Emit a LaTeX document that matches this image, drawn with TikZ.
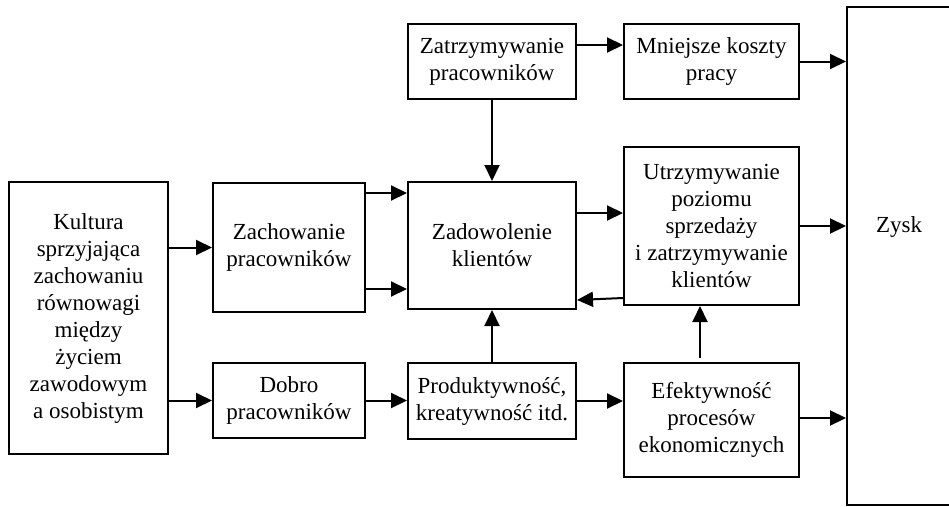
\documentclass[tikz,border=0pt]{standalone}
\usepackage{fontspec}
\setmainfont{Liberation Serif}
\usetikzlibrary{arrows.meta}
\begin{document}
\begin{tikzpicture}[x=1pt,y=-1pt,
  box/.style={draw,line width=2pt,rectangle,inner sep=0pt,align=center,
    font=\fontsize{23}{27}\selectfont},
  arr/.style={line width=2pt,-{Triangle[length=16pt,width=15pt]}}]
\useasboundingbox[fill=white] (0,0) rectangle (949,506);
\node[box,minimum width=159pt,minimum height=272pt] (K) at (88.5,318)
  {Kultura\\sprzyjająca\\zachowaniu\\równowagi\\między\\życiem\\zawodowym\\a osobistym};
\node[box,minimum width=152pt,minimum height=129pt] (Zach) at (289,247.5) {Zachowanie\\pracowników};
\node[box,minimum width=152pt,minimum height=75pt] (Dobro) at (289,400.5) {Dobro\\pracowników};
\node[box,minimum width=168pt,minimum height=75pt] (Zat) at (492,61.5) {Zatrzymywanie\\pracowników};
\node[box,minimum width=168pt,minimum height=127pt] (Zad) at (492,245.5) {Zadowolenie\\klientów};
\node[box,minimum width=168pt,minimum height=76pt] (Prod) at (492,401) {Produktywność,\\kreatywność itd.};
\node[box,minimum width=175pt,minimum height=75pt] (Mn) at (711.5,61.5) {Mniejsze koszty\\pracy};
\node[box,minimum width=175pt,minimum height=158pt] (Utrz) at (711.5,226)
  {Utrzymywanie\\poziomu\\sprzedaży\\i zatrzymywanie\\klientów};
\node[box,minimum width=175pt,minimum height=114pt] (Ef) at (711.5,420)
  {Efektywność\\procesów\\ekonomicznych};
\node[box,minimum width=104pt,minimum height=498pt] (Zysk) at (899,256) {};
\node[font=\fontsize{23}{27}\selectfont,inner sep=0pt] (ZyskT) at (899,227) {Zysk};
\coordinate (efTop) at (700,358);
% connectors
\draw[arr] (K.east |- Zach.west) -- (Zach.west);
\draw[arr] (K.east |- Dobro.west) -- (Dobro.west);
\draw[arr] (Zach.east |- 0,193) -- (Zad.west |- 0,193);
\draw[arr] (Zach.east |- 0,289) -- (Zad.west |- 0,289);
\draw[arr] (Dobro.east) -- (Dobro.east -| Prod.west);
\draw[arr] (Zat.south) -- (Zad.north);
\draw[arr] (Zat.east |- 0,45) -- (Mn.west |- 0,45);
\draw[arr] (Mn.east) -- (Mn.east -| Zysk.west);
\draw[arr] (Zad.east |- 0,213) -- (Utrz.west |- 0,213);
\draw[arr] (Utrz.west |- 0,298) -- (Zad.east |- 0,300);
\draw[arr] (Utrz.east) -- (Utrz.east -| Zysk.west);
\draw[arr] (Prod.north) -- (Zad.south);
\draw[arr] (Prod.east) -- (Prod.east -| Ef.west);
\draw[arr] (efTop) -- (efTop |- Utrz.south);
\draw[arr] (Ef.east |- 0,418) -- (Zysk.west |- 0,418);
\end{tikzpicture}
\end{document}
